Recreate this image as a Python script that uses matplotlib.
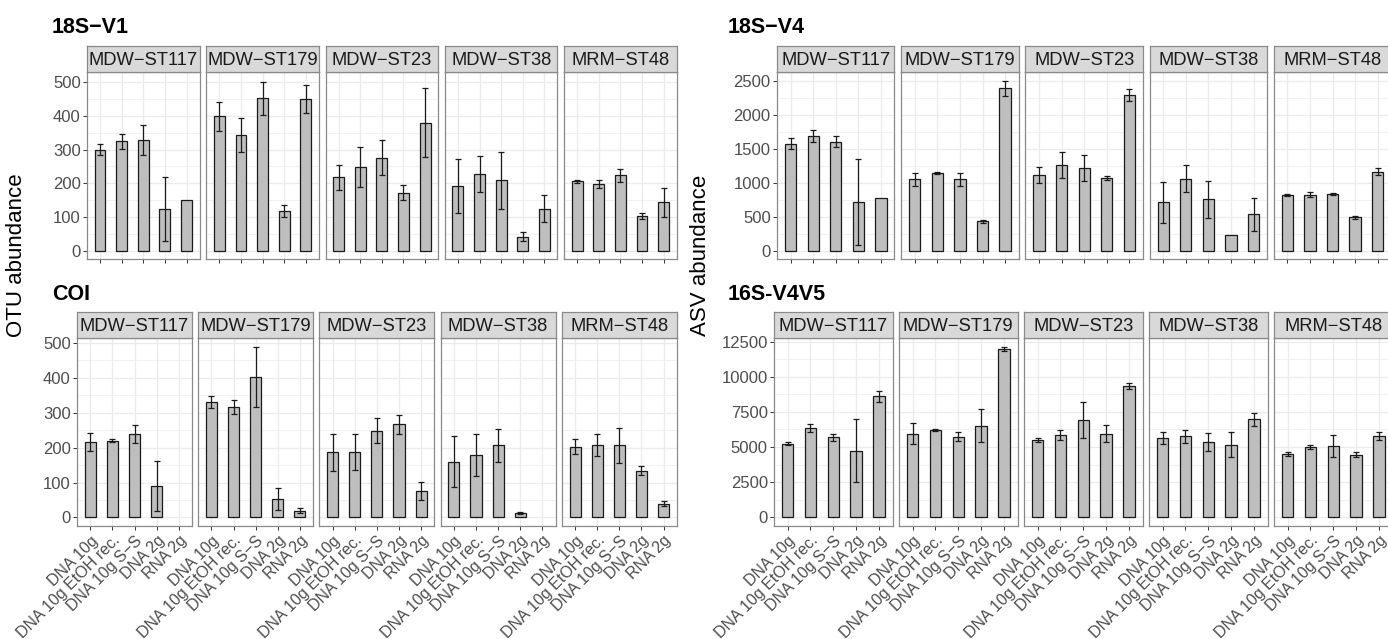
import numpy as np
import matplotlib
matplotlib.use('Agg')
import matplotlib.pyplot as plt

plt.rcParams['font.family'] = ['Liberation Sans', 'DejaVu Sans']

stations = ['MDW−ST117', 'MDW−ST179', 'MDW−ST23', 'MDW−ST38', 'MRM−ST48']
treatments = ['DNA 10g', 'DNA 10g EtOH rec.', 'DNA 10g S−S', 'DNA 2g', 'RNA 2g']

# 18S-V1 (OTU)
v1_mean = [[300, 325, 328, 124, 150],
           [399, 343, 452, 117, 449],
           [217, 248, 275, 172, 380],
           [191, 228, 208, 41, 124],
           [205, 197, 223, 102, 143]]
v1_err = [[15, 22, 44, 95, 0],
          [43, 51, 50, 18, 42],
          [38, 60, 52, 23, 102],
          [80, 53, 84, 14, 40],
          [4, 12, 20, 9, 44]]

# COI (OTU)
coi_mean = [[217, 220, 238, 90, np.nan],
            [330, 316, 403, 53, 19],
            [187, 187, 248, 266, 76],
            [160, 178, 206, 13, np.nan],
            [203, 207, 206, 134, 39]]
coi_err = [[26, 4, 26, 71, 0],
           [18, 19, 86, 32, 7],
           [53, 51, 36, 26, 25],
           [74, 60, 48, 3, 0],
           [22, 31, 50, 13, 7]]

# 18S-V4 (ASV)
v4_mean = [[1575, 1683, 1605, 715, 779],
           [1050, 1145, 1050, 430, 2390],
           [1115, 1265, 1218, 1068, 2288],
           [710, 1060, 757, 225, 531],
           [823, 820, 828, 490, 1161]]
v4_err = [[80, 90, 85, 632, 0],
          [95, 12, 98, 25, 112],
          [120, 190, 195, 30, 88],
          [300, 203, 272, 0, 237],
          [15, 37, 15, 25, 49]]

# 16S-V4V5 (ASV)
v16_mean = [[5235, 6355, 5695, 4740, 8607],
            [5942, 6213, 5730, 6530, 11980],
            [5494, 5848, 6897, 5942, 9350],
            [5636, 5754, 5365, 5164, 6968],
            [4527, 4999, 5070, 4457, 5777]]
v16_err = [[118, 318, 248, 2240, 400],
           [755, 80, 330, 1200, 165],
           [118, 354, 1285, 613, 224],
           [425, 448, 625, 896, 483],
           [141, 142, 800, 165, 283]]

W, H = 1388, 639
fig = plt.figure(figsize=(W / 100, H / 100), dpi=100)

BORDER = '#8A8A8A'
GRID = '#EBEBEB'
TICKC = '#4D4D4D'


def px_axes(left, top, width, height):
    return fig.add_axes([left / W, 1 - (top + height) / H, width / W, height / H])


def draw_block(means, errs, left0, step, width, top, height, strip_h,
               ymax, ytick_step, show_xlabels, title, title_x, title_y):
    fig.text(title_x / W, 1 - title_y / H, title, fontsize=15.5, fontweight='bold',
             ha='left', va='baseline', color='black')
    x = np.arange(1, len(treatments) + 1)
    lo = -0.05 * ymax
    hi = ymax * 1.05
    nmax = int(np.floor(hi / ytick_step))
    yticks = np.arange(0, nmax + 1) * ytick_step
    minor = np.arange(0, nmax + 1) * ytick_step + ytick_step / 2.0
    minor = minor[minor < hi]
    for i, st in enumerate(stations):
        left = left0 + i * step
        ax = px_axes(left, top, width, height)
        ax.set_xlim(0.4, 5.6)
        ax.set_ylim(lo, hi)
        for mm in minor:
            ax.axhline(mm, color=GRID, lw=0.5, zorder=0)
        for t in yticks:
            ax.axhline(t, color=GRID, lw=0.9, zorder=0)
        for xx in x:
            ax.axvline(xx, color=GRID, lw=0.9, zorder=0)
        m = np.array(means[i], dtype=float)
        e = np.array(errs[i], dtype=float)
        bars = ax.bar(x, np.nan_to_num(m), width=0.5, color='#BEBEBE',
                      edgecolor='#1A1A1A', linewidth=0.9, zorder=2)
        for patch, val in zip(bars, m):
            if np.isnan(val):
                patch.set_visible(False)
        mask = (e > 0) & ~np.isnan(m)
        ax.errorbar(x[mask], m[mask], yerr=e[mask], fmt='none', ecolor='#1A1A1A',
                    elinewidth=0.9, capsize=2.0, capthick=0.9, zorder=3)
        for sp in ax.spines.values():
            sp.set_color(BORDER)
            sp.set_linewidth(0.9)
        ax.set_xticks(x)
        ax.tick_params(axis='x', length=3, color='#333333', width=0.7, pad=2)
        if show_xlabels:
            ax.set_xticklabels(treatments, rotation=45, ha='right', va='top',
                               rotation_mode='anchor', fontsize=11.5, color=TICKC)
        else:
            ax.set_xticklabels([])
        ax.set_yticks(yticks)
        if i == 0:
            ax.set_yticklabels([f'{int(t)}' for t in yticks], fontsize=12, color=TICKC)
            ax.tick_params(axis='y', length=3, color='#333333', width=0.7, pad=1.5)
        else:
            ax.set_yticklabels([])
            ax.tick_params(axis='y', length=0)
        ax.set_facecolor('white')
        sax = px_axes(left, top - strip_h, width, strip_h)
        sax.set_facecolor('#D9D9D9')
        sax.set_xticks([])
        sax.set_yticks([])
        for sp in sax.spines.values():
            sp.set_color(BORDER)
            sp.set_linewidth(0.9)
        sax.text(0.5, 0.45, st, ha='center', va='center', fontsize=13.2,
                 color='#1A1A1A', transform=sax.transAxes)


# top-left: 18S-V1
draw_block(v1_mean, v1_err, 87, 119.3, 112.5, 72, 187, 26, 505, 100, False,
           '18S−V1', 52, 33)
# bottom-left: COI
draw_block(coi_mean, coi_err, 77, 121.2, 115, 338, 188, 26, 489, 100, True,
           'COI', 52, 300)
# top-right: 18S-V4
draw_block(v4_mean, v4_err, 777, 124.2, 117.5, 72, 187, 26, 2504, 500, False,
           '18S−V4', 728, 33)
# bottom-right: 16S-V4V5
draw_block(v16_mean, v16_err, 774, 125.0, 118.5, 338, 188, 26, 12144, 2500, True,
           '16S-V4V5', 728, 300)

fig.text(17 / W, 1 - 255 / H, 'OTU abundance', rotation=90, fontsize=16,
         ha='center', va='center', color='black')
fig.text(701 / W, 1 - 255 / H, 'ASV abundance', rotation=90, fontsize=16,
         ha='center', va='center', color='black')

fig.savefig('out.png', dpi=100, facecolor='white')
